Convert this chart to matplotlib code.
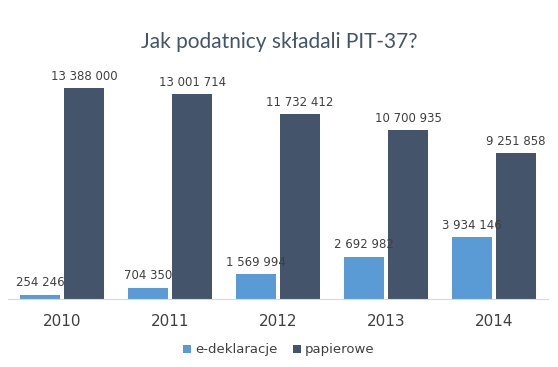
import numpy as np
import matplotlib.pyplot as plt

years = ['2010', '2011', '2012', '2013', '2014']
e_dekl = [254246, 704350, 1569994, 2692982, 3934146]
papier = [13388000, 13001714, 11732412, 10700935, 9251858]

LIGHT = '#5B9BD5'
DARK = '#44546A'


def fmt(v):
    return f"{v:,}".replace(',', ' ')


fig = plt.figure(figsize=(5.58, 3.67), dpi=100)
ax = fig.add_axes([8 / 558, 68 / 367, 540 / 558, 252 / 367])

x = np.arange(len(years))
w = 0.37
off = 0.205
b1 = ax.bar(x - off, e_dekl, w, color=LIGHT, label='e-deklaracje')
b2 = ax.bar(x + off, papier, w, color=DARK, label='papierowe')

for bars, vals in ((b1, e_dekl), (b2, papier)):
    for r, v in zip(bars, vals):
        ax.text(r.get_x() + r.get_width() / 2, r.get_height() + 350000, fmt(v),
                ha='center', va='bottom', fontsize=8.5, color='#404040')

ax.set_xlim(-0.5, 4.5)
ax.set_ylim(0, 16e6)
ax.set_xticks(x)
ax.set_xticklabels(years, fontsize=11, color='#404040')
ax.tick_params(axis='x', length=0, pad=11)
ax.set_yticks([])
for s in ['top', 'left', 'right']:
    ax.spines[s].set_visible(False)
ax.spines['bottom'].set_color('#D9D9D9')

fig.text(0.5, 1 - 42 / 367, 'Jak podatnicy składali PIT-37?', ha='center', va='center',
         fontsize=15, color=DARK, family='Lato')

fig.legend(loc='center', bbox_to_anchor=(0.5, 1 - 350 / 367), ncol=2, frameon=False,
           fontsize=9.5, handlelength=0.6, handleheight=0.6, handletextpad=0.3,
           columnspacing=1.2, labelcolor='#404040')

fig.savefig('out.png', dpi=100)
